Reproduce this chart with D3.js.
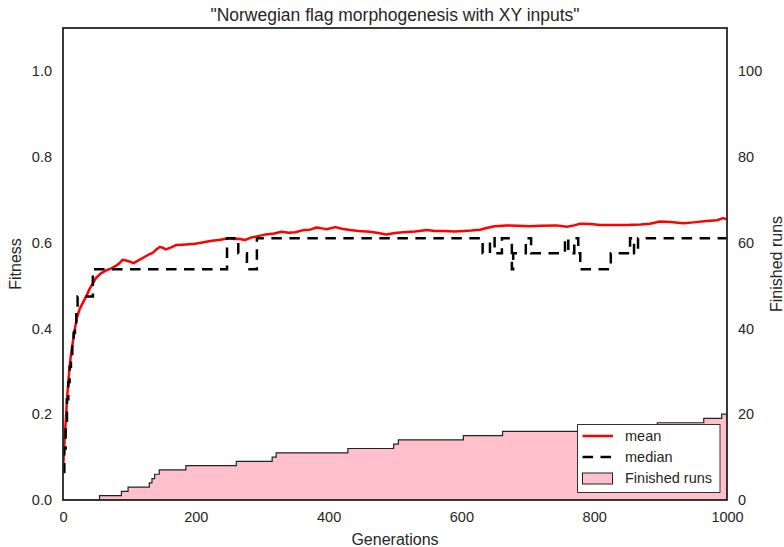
<!DOCTYPE html>
<html>
<head>
<meta charset="utf-8">
<script src="https://cdn.jsdelivr.net/npm/d3@7"></script>
<style>
  html, body { margin: 0; padding: 0; background: #fff; }
  svg { display: block; font-family: "Liberation Sans", Arial, sans-serif; }
</style>
</head>
<body>
<svg id="chart" width="784" height="547"></svg>
<script>
// ---------------- data ----------------
const title = '"Norwegian flag morphogenesis with XY inputs"';
const xTicks = [0, 200, 400, 600, 800, 1000];
const yTicks = [0.0, 0.2, 0.4, 0.6, 0.8, 1.0];
const y2Ticks = [0, 20, 40, 60, 80, 100];

const meanGen = [0,2,4,6,8,10,12,15,18,21,25,30,35,40,45,50,57,65,73,80,85,90,95,100,106,113,120,128,135,140,146,150,155,162,170,180,190,199,210,224,235,249,258,265,274,282,294,305,318,329,340,350,362,372,382,390,397,410,420,432,445,462,475,487,500,512,530,548,560,573,590,603,615,628,638,650,668,685,703,720,743,759,770,779,795,809,830,849,870,884,899,915,934,950,969,985,994,1000];
const meanVal = [0.07,0.13,0.18,0.235,0.275,0.31,0.34,0.37,0.40,0.425,0.445,0.46,0.475,0.492,0.505,0.518,0.528,0.535,0.540,0.546,0.552,0.560,0.558,0.556,0.552,0.558,0.564,0.571,0.576,0.583,0.590,0.588,0.584,0.588,0.594,0.595,0.596,0.597,0.600,0.604,0.606,0.610,0.608,0.609,0.606,0.611,0.615,0.619,0.621,0.625,0.623,0.624,0.629,0.630,0.635,0.633,0.631,0.636,0.632,0.629,0.627,0.625,0.622,0.619,0.622,0.624,0.626,0.629,0.627,0.627,0.626,0.627,0.628,0.630,0.634,0.638,0.640,0.639,0.638,0.639,0.640,0.637,0.640,0.644,0.643,0.641,0.641,0.641,0.642,0.644,0.649,0.648,0.645,0.647,0.650,0.652,0.657,0.654];

const medianGen = [0,2,4,6,8,10,12,14,16,18,20,22,45,247,264,277,292,632,643,650,661,676,678,697,705,756,761,770,776,779,825,854,860,866,1000];
const medianVal = [0.065,0.12,0.18,0.235,0.275,0.31,0.34,0.365,0.39,0.41,0.44,0.474,0.538,0.610,0.575,0.538,0.610,0.575,0.610,0.575,0.610,0.538,0.575,0.610,0.575,0.610,0.575,0.610,0.575,0.538,0.575,0.610,0.575,0.610,0.610];

const finishedGen = [0,55,88,98,130,134,138,145,185,261,315,321,429,498,505,603,662,820,895,965,992,1000];
const finishedRuns = [0,1,2,3,4,5,6,7,8,9,10,11,12,13,14,15,16,17,18,19,20,20];

const legendLabels = ["mean", "median", "Finished runs"];

// ---------------- layout ----------------
const svg = d3.select("#chart");
const L = 63, R = 727, T = 28, B = 500;
const textColor = "#262626";

const x = d3.scaleLinear().domain([0, 1000]).range([L, R]);
const y = d3.scaleLinear().domain([0, 1.1]).range([B, T]);
const y2 = d3.scaleLinear().domain([0, 110]).range([B, T]);

const clip = svg.append("defs").append("clipPath").attr("id", "plotclip")
  .append("rect").attr("x", L).attr("y", T).attr("width", R - L).attr("height", B - T);

const plot = svg.append("g").attr("clip-path", "url(#plotclip)");

// mean
const meanData = meanGen.map((g, i) => [g, meanVal[i]]);
plot.append("path")
  .datum(meanData)
  .attr("fill", "none")
  .attr("stroke", "#ff0000")
  .attr("stroke-width", 2.5)
  .attr("stroke-linejoin", "round")
  .attr("d", d3.line().x(d => x(d[0])).y(d => y(d[1])));

// median
const medData = medianGen.map((g, i) => [g, medianVal[i]]);
plot.append("path")
  .datum(medData)
  .attr("fill", "none")
  .attr("stroke", "#000")
  .attr("stroke-width", 2.5)
  .attr("stroke-dasharray", "10.5,7.5")
  .attr("d", d3.line().x(d => x(d[0])).y(d => y(d[1])).curve(d3.curveStepAfter));

// finished runs
const finData = finishedGen.map((g, i) => [g, finishedRuns[i]]);
plot.append("path")
  .datum(finData)
  .attr("fill", "#ffc0cb")
  .attr("stroke", "#222")
  .attr("stroke-width", 1.2)
  .attr("d", d3.area().x(d => x(d[0])).y0(y2(0)).y1(d => y2(d[1])).curve(d3.curveStepAfter));

// frame
svg.append("rect")
  .attr("x", L).attr("y", T).attr("width", R - L).attr("height", B - T)
  .attr("fill", "none").attr("stroke", textColor).attr("stroke-width", 1.8);

// axes (no tick marks, seaborn white style)
const xAxis = svg.append("g").attr("transform", `translate(0,${B})`)
  .call(d3.axisBottom(x).tickValues(xTicks).tickSize(0).tickPadding(12).tickFormat(d3.format("d")));
const yAxis = svg.append("g").attr("transform", `translate(${L},0)`)
  .call(d3.axisLeft(y).tickValues(yTicks).tickSize(0).tickPadding(11).tickFormat(d3.format(".1f")));
const y2Axis = svg.append("g").attr("transform", `translate(${R},0)`)
  .call(d3.axisRight(y2).tickValues(y2Ticks).tickSize(0).tickPadding(11).tickFormat(d3.format("d")));
[xAxis, yAxis, y2Axis].forEach(a => {
  a.select(".domain").remove();
  a.selectAll("text").attr("fill", textColor).style("font-size", "14.5px")
    .style("font-family", '"Liberation Sans", Arial, sans-serif');
});

// labels
svg.append("text").attr("x", 395).attr("y", 21).attr("text-anchor", "middle")
  .attr("fill", textColor).style("font-size", "17.5px").text(title);
svg.append("text").attr("x", (L + R) / 2).attr("y", 545).attr("text-anchor", "middle")
  .attr("fill", textColor).style("font-size", "16px").text("Generations");
svg.append("text").attr("transform", `translate(21,${(T + B) / 2}) rotate(-90)`).attr("text-anchor", "middle")
  .attr("fill", textColor).style("font-size", "16px").text("Fitness");
svg.append("text").attr("transform", `translate(782,${(T + B) / 2}) rotate(-90)`).attr("text-anchor", "middle")
  .attr("fill", textColor).style("font-size", "16px").text("Finished runs");

// legend
const lg = svg.append("g");
lg.append("rect").attr("x", 577.5).attr("y", 424.5).attr("width", 142.5).attr("height", 68)
  .attr("fill", "#fff").attr("stroke", "#333").attr("stroke-width", 1);
const rowY = [436, 457, 478];
lg.append("line").attr("x1", 582.5).attr("x2", 613).attr("y1", rowY[0]).attr("y2", rowY[0])
  .attr("stroke", "#ff0000").attr("stroke-width", 2.5);
lg.append("line").attr("x1", 582.5).attr("x2", 613).attr("y1", rowY[1]).attr("y2", rowY[1])
  .attr("stroke", "#000").attr("stroke-width", 2.5).attr("stroke-dasharray", "10.5,7.5");
lg.append("rect").attr("x", 582.5).attr("y", 473).attr("width", 30).attr("height", 11)
  .attr("fill", "#ffc0cb").attr("stroke", "#222").attr("stroke-width", 1);
legendLabels.forEach((t, i) => {
  lg.append("text").attr("x", 625).attr("y", rowY[i] + 5).attr("fill", textColor)
    .style("font-size", "14.5px").text(t);
});
</script>
</body>
</html>
